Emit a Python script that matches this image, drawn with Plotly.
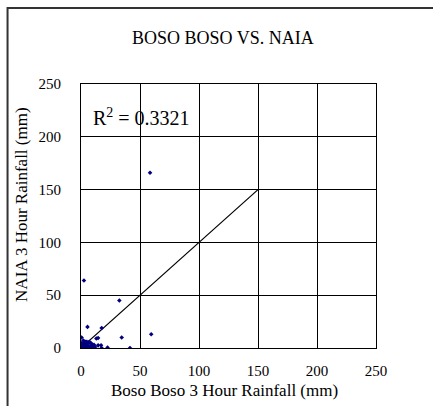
import plotly.graph_objects as go

# Scatter data: Boso Boso (x) vs NAIA (y) 3-hour rainfall, mm
boso = [58.5, 2.5, 32.5, 5.5, 17.5, 59.5, 34.5, 0.5, 14.5, 13.0,
        41.5, 22.5, 17.5, 17.0, 14.5, 10.5, 8.0, 4.0, 1.5, 7.0,
        0.5, 1.0, 2.0, 3.0, 1.0, 2.0, 3.0, 4.0, 5.0, 6.0,
        5.0, 7.0, 9.0, 3.0, 2.0, 11.0, 0.0, 6.0, 10.0, 4.0,
        8.0, 12.0, 0.0, 1.5, 2.5, 3.5, 6.5, 9.5]
naia = [166.0, 64.0, 45.0, 20.0, 19.0, 13.0, 10.0, 10.0, 9.5, 9.0,
        0.0, 0.5, 0.0, 2.5, 2.5, 2.0, 5.0, 6.0, 4.0, 1.0,
        0.5, 1.0, 2.0, 3.0, 0.0, 0.0, 1.0, 2.0, 3.0, 4.0,
        6.0, 6.0, 4.0, 5.0, 7.0, 3.0, 2.0, 0.0, 0.5, 0.0,
        2.0, 1.0, 5.0, 1.5, 3.5, 0.5, 1.5, 0.5]

# 1:1 reference line
line_x = [0, 150]
line_y = [0, 150]

ticks = [0, 50, 100, 150, 200, 250]
tick_text = ["0", "50", "100", "150", "200", "250"]

title_text = "BOSO BOSO VS. NAIA"
x_title = "Boso Boso 3 Hour Rainfall (mm)"
y_title = "NAIA 3 Hour Rainfall (mm)"
r2_text = "R<sup>2</sup> = 0.3321"

FONT = "Liberation Serif"

fig = go.Figure()
fig.add_trace(go.Scatter(x=line_x, y=line_y, mode="lines",
                         line=dict(color="black", width=1.2),
                         hoverinfo="skip", showlegend=False))
fig.add_trace(go.Scatter(x=boso, y=naia, mode="markers",
                         marker=dict(symbol="diamond", size=3.5, color="#000080",
                                     line=dict(width=0)),
                         showlegend=False))

axis_common = dict(range=[0, 250], tickvals=ticks, ticktext=tick_text,
                   showgrid=True, gridcolor="black", gridwidth=1,
                   zeroline=False, showline=True, linecolor="black",
                   linewidth=1, mirror=True, ticks="",
                   tickfont=dict(family=FONT, size=15, color="black"),
                   fixedrange=True)

fig.update_layout(
    width=433, height=406,
    margin=dict(l=81, r=57, t=84, b=58),
    paper_bgcolor="white", plot_bgcolor="white",
    xaxis=dict(**axis_common, ticklabelstandoff=9),
    yaxis=dict(**axis_common, ticklabelstandoff=16),
    showlegend=False,
    annotations=[
        dict(text=title_text, x=0.483, y=1.174, xref="paper", yref="paper",
             xanchor="center", yanchor="middle", showarrow=False,
             font=dict(family=FONT, size=18, color="black")),
        dict(text=x_title, x=0.486, y=-0.162, xref="paper", yref="paper",
             xanchor="center", yanchor="middle", showarrow=False,
             font=dict(family=FONT, size=17, color="black")),
        dict(text=y_title, x=-0.2, y=0.542, xref="paper", yref="paper",
             xanchor="center", yanchor="middle", showarrow=False, textangle=-90,
             font=dict(family=FONT, size=17, color="black")),
        dict(text=r2_text, x=0.035, y=0.875, xref="paper", yref="paper",
             xanchor="left", yanchor="middle", showarrow=False,
             font=dict(family=FONT, size=20, color="black")),
    ],
    shapes=[
        dict(type="rect", xref="paper", yref="paper",
             x0=-0.249, x1=1.4, y0=-0.4, y1=1.288,
             line=dict(color="#333333", width=2), layer="below"),
    ],
)

fig.write_html("out.html")
